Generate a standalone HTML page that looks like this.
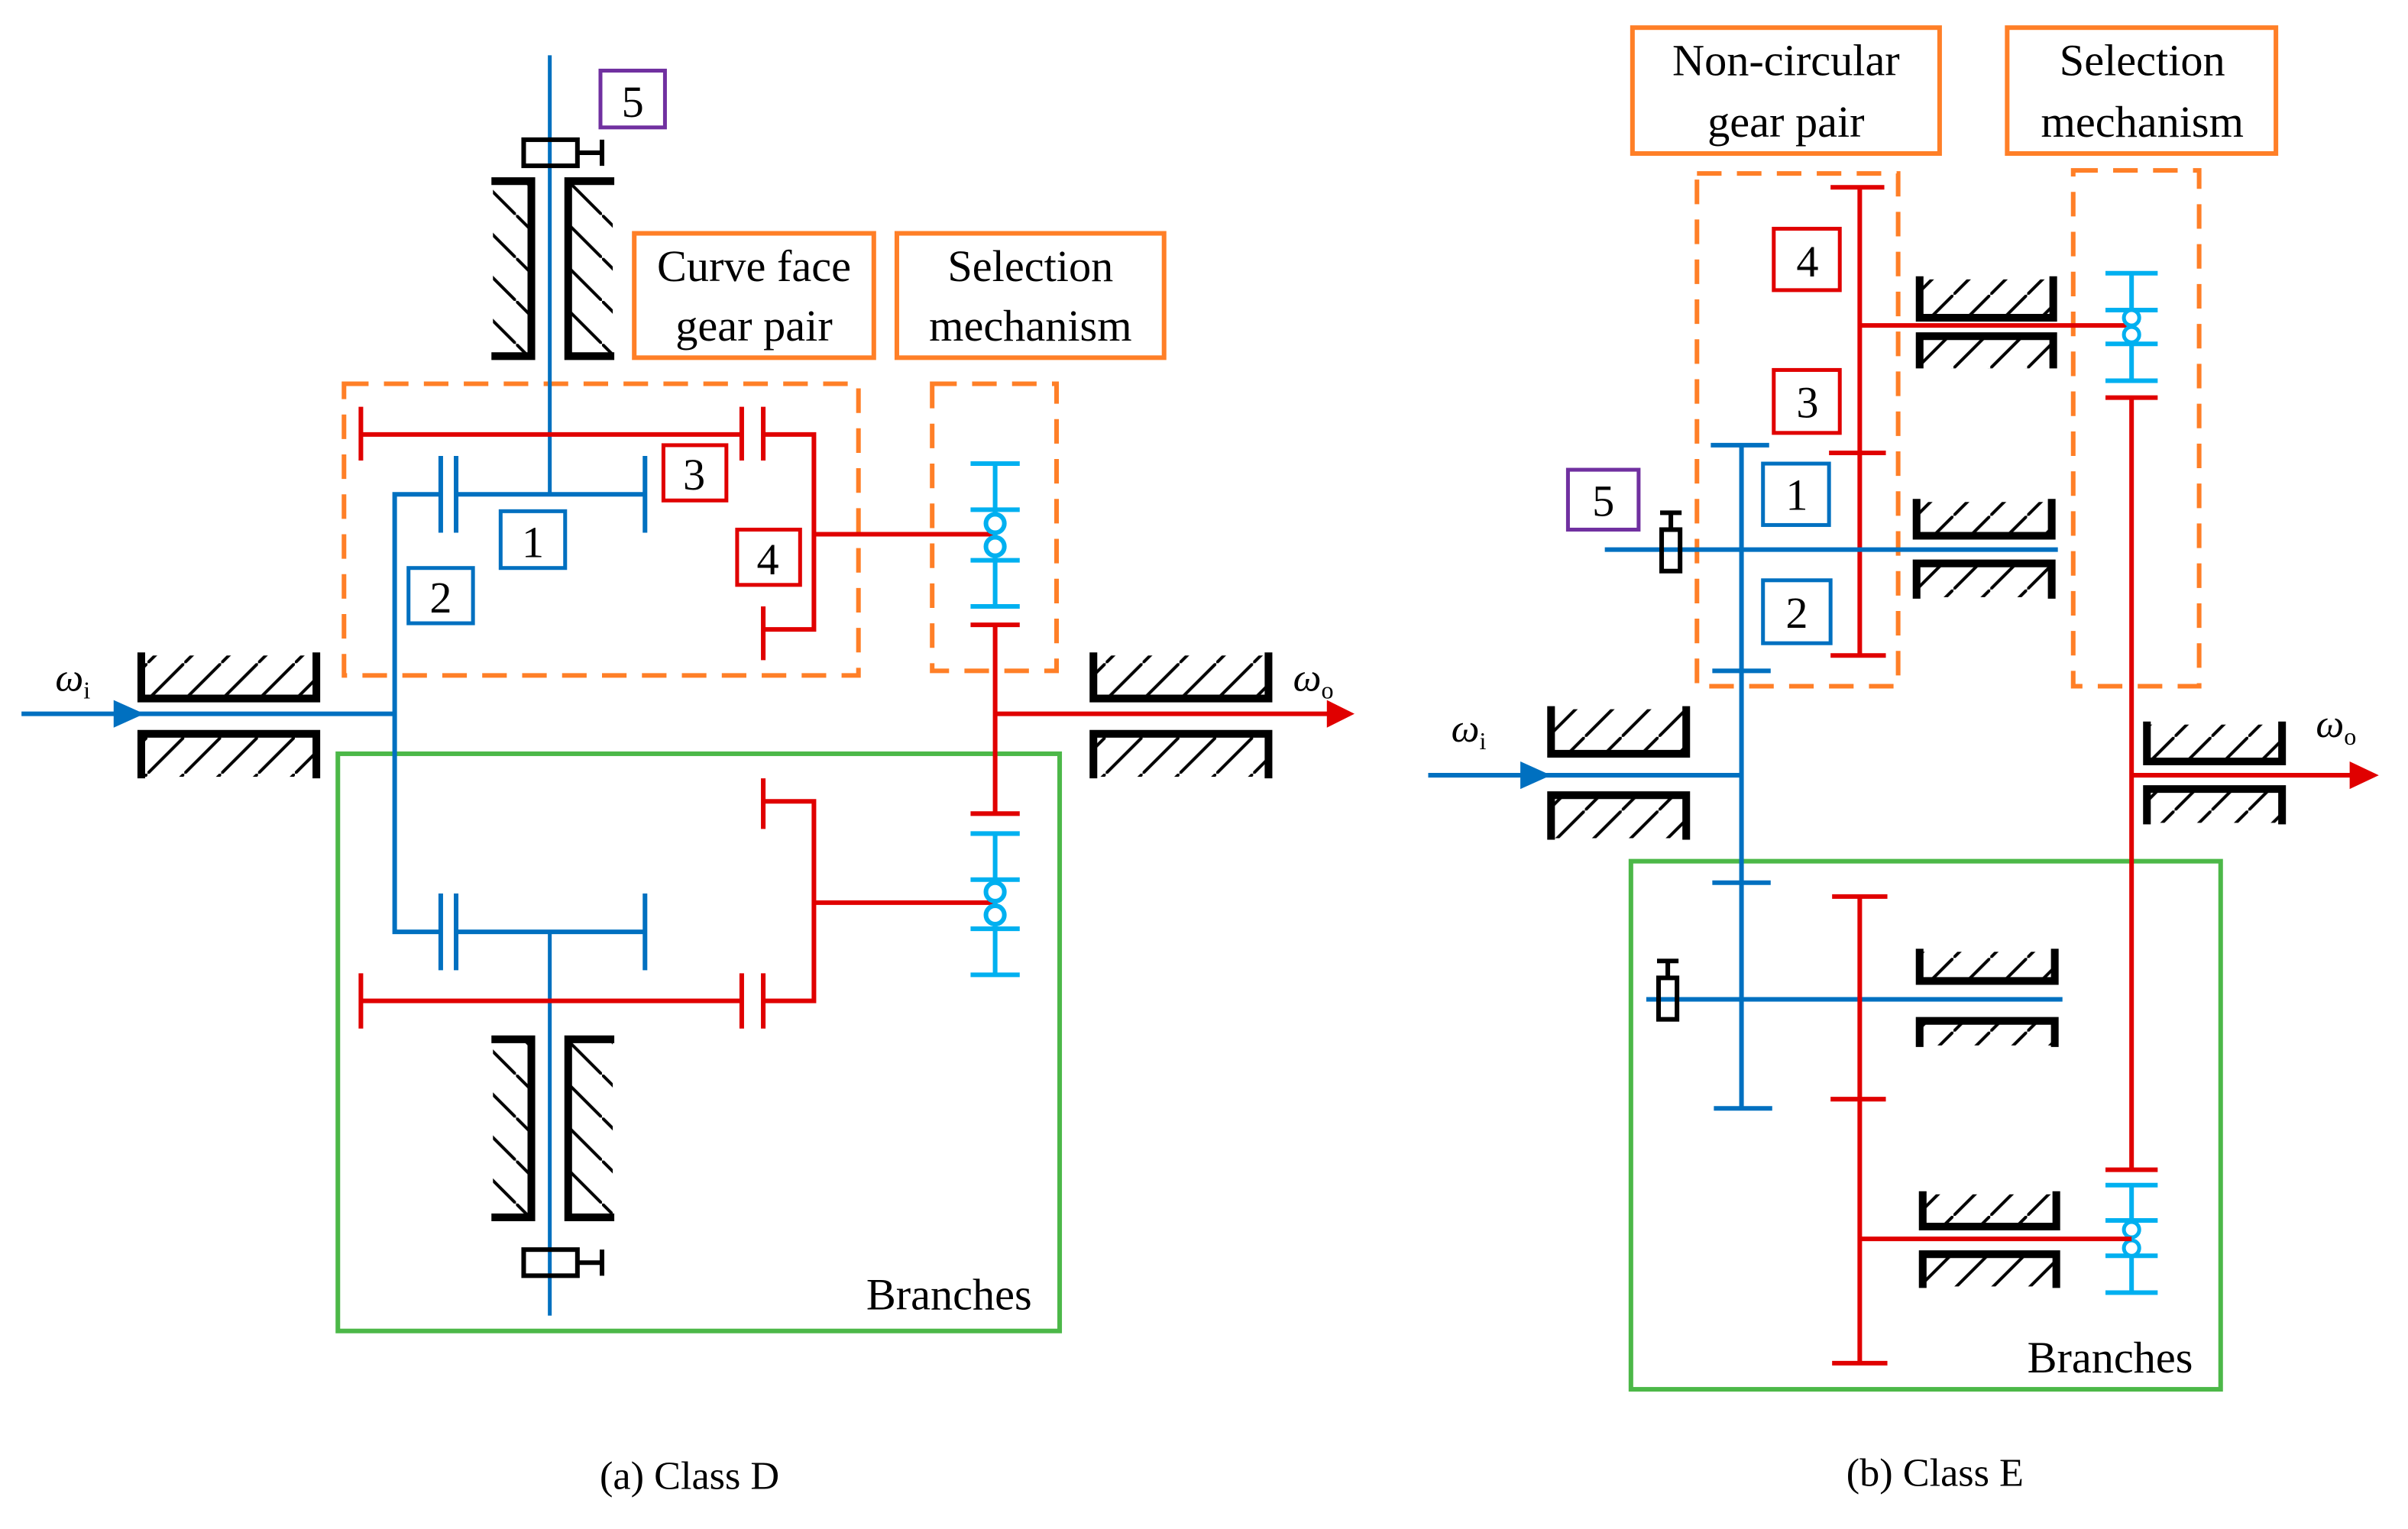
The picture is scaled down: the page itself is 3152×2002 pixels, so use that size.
<!DOCTYPE html>
<html><head><meta charset="utf-8"><style>
html,body{margin:0;padding:0;background:#fff}
svg{display:block}
</style></head><body>
<svg width="3152" height="2002" viewBox="0 0 1568 996" preserveAspectRatio="none" xmlns="http://www.w3.org/2000/svg" font-family="Liberation Serif, serif">
<defs>
<pattern id="h1" width="24" height="24" patternUnits="userSpaceOnUse"><path d="M-2,26 L26,-2" stroke="#000" stroke-width="2"/></pattern>
<pattern id="h2" width="28" height="28" patternUnits="userSpaceOnUse"><path d="M-2,-2 L30,30" stroke="#000" stroke-width="2"/></pattern>
</defs>
<rect width="1568" height="996" fill="#fff"/>

<!-- ============ LEFT (a) ============ -->
<g fill="none" stroke-linecap="butt">
<rect x="224" y="250" width="335" height="190" stroke="#ff7f27" stroke-width="3" stroke-dasharray="16,10"/>
<rect x="607" y="250" width="81" height="187" stroke="#ff7f27" stroke-width="3" stroke-dasharray="16,10"/>
<rect x="220" y="491" width="470" height="376" stroke="#4cb848" stroke-width="3"/>
<rect x="413" y="152" width="156" height="81" stroke="#ff7f27" stroke-width="3"/>
<rect x="584" y="152" width="174" height="81" stroke="#ff7f27" stroke-width="3"/>
<rect x="391" y="46" width="42" height="37" stroke="#7030a0" stroke-width="2.5"/>

<!-- blue shaft (two segments) -->
<path d="M358,36 V322 M358,607 V857" stroke="#0070c0" stroke-width="2.5"/>
<rect x="341" y="91" width="35" height="17" stroke="#000" stroke-width="3"/>
<path d="M376,99.5 H392 M392,91 V108" stroke="#000" stroke-width="3"/>
<rect x="341" y="814" width="35" height="17" stroke="#000" stroke-width="3"/>
<path d="M376,822.5 H392 M392,814 V831" stroke="#000" stroke-width="3"/>

<rect x="321" y="120" width="25" height="110" fill="url(#h2)" stroke="none"/>
<rect x="370" y="120" width="29" height="110" fill="url(#h2)" stroke="none"/>
<path d="M320,118 H346 V232 H320 M400,118 H370 V232 H400" stroke="#000" stroke-width="5"/>
<rect x="321" y="679" width="25" height="112" fill="url(#h2)" stroke="none"/>
<rect x="370" y="679" width="29" height="112" fill="url(#h2)" stroke="none"/>
<path d="M320,677 H346 V793 H320 M400,677 H370 V793 H400" stroke="#000" stroke-width="5"/>

<path d="M235,283 H483 M235,265 V300 M483,265 V300 M497,265 V300 M497,283 H530 V410 H497 M497,395 V430 M530,348 H648" stroke="#e00000" stroke-width="3"/>
<path d="M297,322 H420 M420,297 V347 M287,297 V347 M297,297 V347 M287,322 H257 V607 H287 M297,607 H420 M420,582 V632 M287,582 V632 M297,582 V632" stroke="#0070c0" stroke-width="3"/>
<path d="M14,465 H257" stroke="#0070c0" stroke-width="3"/>
<path d="M74,456 L94,465 L74,474 Z" fill="#0070c0" stroke="none"/>
<path d="M235,652 H483 M235,634 V670 M483,634 V670 M497,634 V670 M497,652 H530 V522 H497 M497,507 V540 M530,588 H648" stroke="#e00000" stroke-width="3"/>
<path d="M648,302 V395 M632,302 H664 M632,332 H664 M632,365 H664 M632,395 H664" stroke="#00b0f0" stroke-width="3"/>
<circle cx="648" cy="341" r="6" stroke="#00b0f0" stroke-width="3" fill="#fff"/>
<circle cx="648" cy="356" r="6" stroke="#00b0f0" stroke-width="3" fill="#fff"/>
<path d="M648,543 V635 M632,543 H664 M632,573 H664 M632,605 H664 M632,635 H664" stroke="#00b0f0" stroke-width="3"/>
<circle cx="648" cy="581" r="6" stroke="#00b0f0" stroke-width="3" fill="#fff"/>
<circle cx="648" cy="596" r="6" stroke="#00b0f0" stroke-width="3" fill="#fff"/>
<path d="M632,407 H664 M648,407 V530 M632,530 H664 M648,465 H866" stroke="#e00000" stroke-width="3"/>
<path d="M864,456 L882,465 L864,474 Z" fill="#e00000" stroke="none"/>
<rect x="92" y="427" width="114" height="28" fill="url(#h1)" stroke="none"/>
<path d="M92,425 V455 H206 V425" stroke="#000" stroke-width="5"/>
<rect x="92" y="478" width="114" height="28" fill="url(#h1)" stroke="none"/>
<path d="M92,507 V478 H206 V507" stroke="#000" stroke-width="5"/>
<rect x="712" y="427" width="114" height="28" fill="url(#h1)" stroke="none"/>
<path d="M712,425 V455 H826 V425" stroke="#000" stroke-width="5"/>
<rect x="712" y="478" width="114" height="28" fill="url(#h1)" stroke="none"/>
<path d="M712,507 V478 H826 V507" stroke="#000" stroke-width="5"/>

<rect x="432" y="290" width="41" height="36" stroke="#e00000" stroke-width="2.5"/>
<rect x="480" y="345" width="41" height="36" stroke="#e00000" stroke-width="2.5"/>
<rect x="326" y="333" width="42" height="37" stroke="#0070c0" stroke-width="2.5"/>
<rect x="266" y="370" width="42" height="36" stroke="#0070c0" stroke-width="2.5"/>
</g>
<g font-size="29" text-anchor="middle" fill="#000" font-family="Liberation Serif, serif">
<text x="412" y="76">5</text>
<text x="452" y="319">3</text>
<text x="500" y="374">4</text>
<text x="347" y="363">1</text>
<text x="287" y="399">2</text>
<text x="491" y="183">Curve face</text>
<text x="491" y="222">gear pair</text>
<text x="671" y="183">Selection</text>
<text x="671" y="222">mechanism</text>
<text x="618" y="853">Branches</text>
<text x="449" y="970" font-size="26">(a) Class D</text>
</g>
<g font-family="Liberation Serif, serif" fill="#000">
<text x="36" y="450" font-size="26" font-style="italic">ω<tspan font-size="16" font-style="normal" dy="5">i</tspan></text>
<text x="842" y="450" font-size="26" font-style="italic">ω<tspan font-size="16" font-style="normal" dy="5">o</tspan></text>
</g>

<!-- ============ RIGHT (b) ============ -->
<g fill="none">
<rect x="1063" y="18" width="200" height="82" stroke="#ff7f27" stroke-width="3"/>
<rect x="1307" y="18" width="175" height="82" stroke="#ff7f27" stroke-width="3"/>
<rect x="1105" y="113" width="131" height="334" stroke="#ff7f27" stroke-width="3" stroke-dasharray="16,10"/>
<rect x="1350" y="111" width="82" height="336" stroke="#ff7f27" stroke-width="3" stroke-dasharray="16,10"/>
<rect x="1062" y="561" width="384" height="344" stroke="#4cb848" stroke-width="3"/>
<rect x="1021" y="306" width="46" height="39" stroke="#7030a0" stroke-width="2.5"/>

<path d="M1211,122 V427 M1192,122 H1227 M1191,295 H1228 M1192,427 H1228 M1211,212 H1388" stroke="#e00000" stroke-width="3"/>
<path d="M1134,290 V722 M1114,290 H1152 M1115,437 H1153 M1115,575 H1153 M1116,722 H1154 M1045,358 H1340 M1072,651 H1343" stroke="#0070c0" stroke-width="3"/>
<rect x="1082" y="345" width="12" height="27" stroke="#000" stroke-width="3"/>
<path d="M1088,345 V334 M1081,334 H1095" stroke="#000" stroke-width="3"/>
<rect x="1080" y="637" width="12" height="27" stroke="#000" stroke-width="3"/>
<path d="M1086,637 V626 M1079,626 H1093" stroke="#000" stroke-width="3"/>
<path d="M1388,178 V248 M1371,178 H1405 M1371,202 H1405 M1371,224 H1405 M1371,248 H1405" stroke="#00b0f0" stroke-width="3"/>
<circle cx="1388" cy="207" r="5" stroke="#00b0f0" stroke-width="2.5" fill="#fff"/>
<circle cx="1388" cy="218" r="5" stroke="#00b0f0" stroke-width="2.5" fill="#fff"/>
<path d="M1388,772 V842 M1371,772 H1405 M1371,795 H1405 M1371,818 H1405 M1371,842 H1405" stroke="#00b0f0" stroke-width="3"/>
<circle cx="1388" cy="801" r="5" stroke="#00b0f0" stroke-width="2.5" fill="#fff"/>
<circle cx="1388" cy="813" r="5" stroke="#00b0f0" stroke-width="2.5" fill="#fff"/>
<path d="M1371,259 H1405 M1388,259 V762 M1371,762 H1405 M1388,505 H1532" stroke="#e00000" stroke-width="3"/>
<path d="M1530,496 L1549,505 L1530,514 Z" fill="#e00000" stroke="none"/>
<path d="M1211,584 V888 M1193,584 H1229 M1192,716 H1228 M1193,888 H1229 M1211,807 H1388" stroke="#e00000" stroke-width="3"/>
<path d="M930,505 H1134" stroke="#0070c0" stroke-width="3"/>
<path d="M990,496 L1010,505 L990,514 Z" fill="#0070c0" stroke="none"/>

<rect x="1250" y="182" width="87" height="25" fill="url(#h1)" stroke="none"/>
<path d="M1250,180 V207 H1337 V180" stroke="#000" stroke-width="5"/>
<rect x="1250" y="219" width="87" height="21" fill="url(#h1)" stroke="none"/>
<path d="M1250,240 V219 H1337 V240" stroke="#000" stroke-width="5"/>
<rect x="1248" y="327" width="88" height="22" fill="url(#h1)" stroke="none"/>
<path d="M1248,325 V349 H1336 V325" stroke="#000" stroke-width="5"/>
<rect x="1248" y="367" width="88" height="22" fill="url(#h1)" stroke="none"/>
<path d="M1248,390 V367 H1336 V390" stroke="#000" stroke-width="5"/>
<rect x="1010" y="462" width="88" height="29" fill="url(#h1)" stroke="none"/>
<path d="M1010,460 V491 H1098 V460" stroke="#000" stroke-width="5"/>
<rect x="1010" y="518" width="88" height="28" fill="url(#h1)" stroke="none"/>
<path d="M1010,547 V518 H1098 V547" stroke="#000" stroke-width="5"/>
<rect x="1398" y="472" width="88" height="24" fill="url(#h1)" stroke="none"/>
<path d="M1398,470 V496 H1486 V470" stroke="#000" stroke-width="5"/>
<rect x="1398" y="514" width="88" height="22" fill="url(#h1)" stroke="none"/>
<path d="M1398,537 V514 H1486 V537" stroke="#000" stroke-width="5"/>
<rect x="1250" y="620" width="88" height="19" fill="url(#h1)" stroke="none"/>
<path d="M1250,618 V639 H1338 V618" stroke="#000" stroke-width="5"/>
<rect x="1250" y="665" width="88" height="16" fill="url(#h1)" stroke="none"/>
<path d="M1250,682 V665 H1338 V682" stroke="#000" stroke-width="5"/>
<rect x="1252" y="778" width="87" height="21" fill="url(#h1)" stroke="none"/>
<path d="M1252,776 V799 H1339 V776" stroke="#000" stroke-width="5"/>
<rect x="1252" y="817" width="87" height="21" fill="url(#h1)" stroke="none"/>
<path d="M1252,839 V817 H1339 V839" stroke="#000" stroke-width="5"/>

<rect x="1155" y="149" width="43" height="40" stroke="#e00000" stroke-width="2.5"/>
<rect x="1155" y="241" width="43" height="41" stroke="#e00000" stroke-width="2.5"/>
<rect x="1148" y="302" width="43" height="40" stroke="#0070c0" stroke-width="2.5"/>
<rect x="1148" y="378" width="44" height="41" stroke="#0070c0" stroke-width="2.5"/>
</g>
<g font-size="29" text-anchor="middle" fill="#000" font-family="Liberation Serif, serif">
<text x="1044" y="336">5</text>
<text x="1177" y="180">4</text>
<text x="1177" y="272">3</text>
<text x="1170" y="332">1</text>
<text x="1170" y="409">2</text>
<text x="1163" y="49">Non-circular</text>
<text x="1163" y="89">gear pair</text>
<text x="1395" y="49">Selection</text>
<text x="1395" y="89">mechanism</text>
<text x="1374" y="894">Branches</text>
<text x="1260" y="968" font-size="26">(b) Class E</text>
</g>
<g font-family="Liberation Serif, serif" fill="#000">
<text x="945" y="483" font-size="26" font-style="italic">ω<tspan font-size="16" font-style="normal" dy="5">i</tspan></text>
<text x="1508" y="480" font-size="26" font-style="italic">ω<tspan font-size="16" font-style="normal" dy="5">o</tspan></text>
</g>
</svg>
</body></html>
